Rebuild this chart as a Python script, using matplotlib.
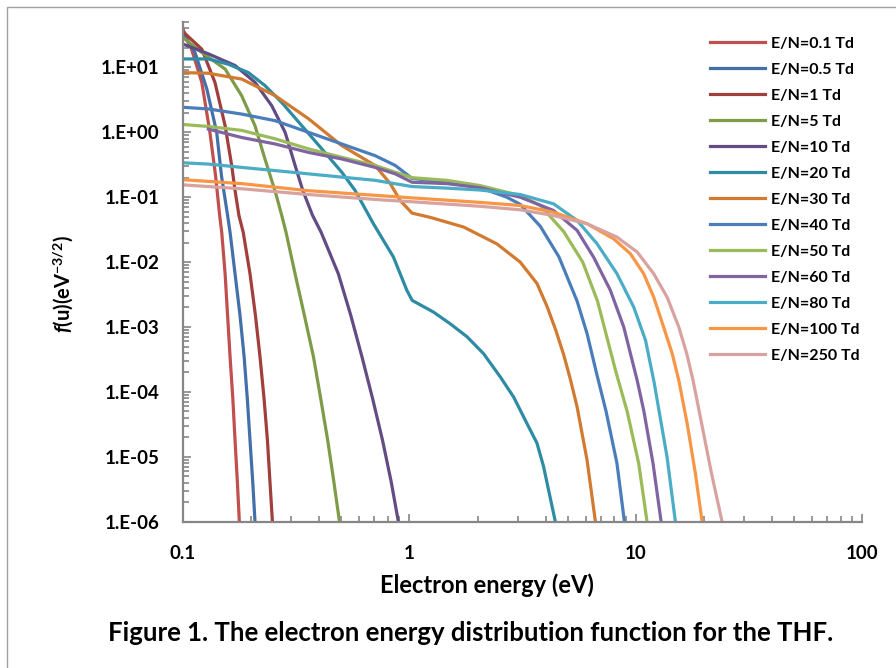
import numpy as np
import matplotlib
matplotlib.use("Agg")
import matplotlib.pyplot as plt
from matplotlib.ticker import FixedLocator, NullFormatter
from matplotlib.patches import Rectangle

plt.rcParams['font.family'] = ['Lato', 'DejaVu Sans']
plt.rcParams['mathtext.fontset'] = 'custom'
plt.rcParams['mathtext.rm'] = 'Lato:bold'
plt.rcParams['mathtext.it'] = 'Lato:bold:italic'
plt.rcParams['mathtext.bf'] = 'Lato:bold'

# EEDF for THF: energy (eV) and f(u) (eV^-3/2)
labels = ['E/N=0.1 Td', 'E/N=0.5 Td', 'E/N=1 Td', 'E/N=5 Td', 'E/N=10 Td',
          'E/N=20 Td', 'E/N=30 Td', 'E/N=40 Td', 'E/N=50 Td', 'E/N=60 Td',
          'E/N=80 Td', 'E/N=100 Td', 'E/N=250 Td']
colors = ['#C0504D', '#4470A9', '#A03F3B', '#7E9B47', '#634B84', '#2D8BA3',
          '#D27A30', '#4A7EBB', '#9BBB59', '#8064A2', '#4BACC6', '#F79646',
          '#D8A29F']

e_01 = [0.100, 0.1091, 0.1211, 0.1315, 0.1393, 0.1452, 0.1483, 0.1535, 0.1574, 0.1614,
        0.1660, 0.1698, 0.1738, 0.1774]
f_01 = [38.9, 19.1, 5.89, 1.0, 0.214, 0.0525, 0.0288, 6.6e-3, 1.51e-3, 3.5e-4,
        7.94e-5, 1.8e-5, 4.17e-6, 1.0e-6]

e_05 = [0.100, 0.1130, 0.1274, 0.1409, 0.1479, 0.1574, 0.1614, 0.1698, 0.1786, 0.1862,
        0.1923, 0.1977, 0.2032, 0.2080]
f_05 = [32.4, 17.0, 4.68, 1.0, 0.214, 0.0525, 0.0288, 6.6e-3, 1.51e-3, 3.5e-4,
        7.94e-5, 1.8e-5, 4.17e-6, 1.0e-6]

e_1 = [0.100, 0.1211, 0.1384, 0.1535, 0.1641, 0.1698, 0.1766, 0.1845, 0.1977, 0.2089,
       0.2188, 0.2280, 0.2360, 0.2421, 0.2483]
f_1 = [35.5, 19.1, 5.89, 1.26, 0.309, 0.127, 0.0525, 0.0288, 6.6e-3, 1.51e-3,
       3.5e-4, 7.94e-5, 1.8e-5, 4.17e-6, 1.0e-6]

e_5 = [0.100, 0.1211, 0.1535, 0.1816, 0.2080, 0.2301, 0.2564, 0.2729, 0.2851, 0.3126,
       0.3436, 0.3767, 0.4055, 0.4355, 0.4634, 0.4909]
f_5 = [28.8, 17.0, 9.44, 3.67, 1.26, 0.389, 0.117, 0.0525, 0.0288, 6.6e-3,
       1.51e-3, 3.5e-4, 7.94e-5, 1.8e-5, 4.17e-6, 1.0e-6]

e_10 = [0.100, 0.1294, 0.1698, 0.2080, 0.2466, 0.2825, 0.3126, 0.3381, 0.3733, 0.4074,
        0.4853, 0.5508, 0.6166, 0.6871, 0.7603, 0.8299, 0.8933]
f_10 = [22.9, 16.2, 10.7, 5.89, 2.57, 1.0, 0.309, 0.127, 0.0525, 0.0288,
        6.6e-3, 1.51e-3, 3.5e-4, 7.94e-5, 1.8e-5, 4.17e-6, 1.0e-6]

e_20 = [0.100, 0.1294, 0.1585, 0.1945, 0.2301, 0.2729, 0.3350, 0.4102, 0.5023, 0.5754,
        0.6934, 0.8492, 0.9739, 1.028, 1.276, 1.514, 1.795, 2.123, 2.518, 2.884,
        3.304, 3.656, 3.908, 4.111, 4.406]
f_20 = [13.5, 13.5, 11.2, 8.32, 5.25, 2.88, 1.26, 0.556, 0.243, 0.127,
        0.0389, 0.0120, 3.67e-3, 2.57e-3, 1.70e-3, 1.12e-3, 7.08e-4, 3.89e-4, 1.70e-4, 8.32e-5,
        3.24e-5, 1.62e-5, 7.08e-6, 3.09e-6, 1.0e-6]

e_30 = [0.100, 0.1294, 0.1816, 0.2553, 0.3581, 0.5023, 0.7047, 0.8222, 0.9099, 1.026,
        1.233, 1.734, 2.432, 3.083, 3.656, 4.046, 4.416, 4.797, 5.129, 5.495,
        6.081, 6.622]
f_30 = [8.32, 8.13, 6.61, 3.67, 1.62, 0.624, 0.309, 0.162, 0.0891, 0.0569,
        0.0490, 0.0347, 0.0191, 0.0100, 4.68e-3, 2.09e-3, 9.12e-4, 3.72e-4, 1.58e-4, 5.89e-5,
        8.91e-6, 1.0e-6]

e_40 = [0.100, 0.1294, 0.1816, 0.2553, 0.3581, 0.5023, 0.7047, 0.8650, 1.026, 1.462,
        2.051, 2.692, 3.083, 3.784, 4.571, 5.495, 6.081, 6.683, 7.379, 8.241, 8.892]
f_40 = [2.43, 2.29, 1.91, 1.51, 1.0, 0.661, 0.437, 0.309, 0.195, 0.170,
        0.140, 0.100, 0.0776, 0.0355, 0.0120, 2.51e-3, 7.94e-4, 2.0e-4, 5.01e-5, 7.94e-6, 1.0e-6]

e_50 = [0.100, 0.1294, 0.1816, 0.2553, 0.3581, 0.5023, 0.7047, 0.8650, 1.026, 1.462,
        2.051, 3.083, 3.784, 4.797, 5.821, 6.761, 8.166, 9.141, 10.28, 11.19]
f_50 = [1.32, 1.23, 1.07, 0.794, 0.556, 0.412, 0.309, 0.243, 0.200, 0.182,
        0.151, 0.106, 0.0745, 0.0295, 0.0100, 2.51e-3, 2.0e-4, 5.01e-5, 7.94e-6, 1.0e-6]

e_60 = [0.1294, 0.1816, 0.2553, 0.3581, 0.5023, 0.7047, 0.8650, 1.026, 1.462, 2.051,
        3.083, 4.325, 5.495, 6.501, 7.709, 8.831, 10.12, 10.84, 11.89, 12.91]
f_60 = [1.12, 0.832, 0.661, 0.490, 0.389, 0.288, 0.229, 0.170, 0.162, 0.140,
        0.100, 0.0624, 0.0308, 0.0119, 3.67e-3, 1.0e-3, 1.51e-4, 5.01e-5, 7.94e-6, 1.0e-6]

e_80 = [0.100, 0.1294, 0.1816, 0.2553, 0.3581, 0.5023, 0.7047, 1.026, 1.462, 2.051,
        3.083, 4.325, 5.495, 6.730, 8.241, 9.772, 11.02, 12.02, 13.71, 14.93]
f_80 = [0.339, 0.324, 0.288, 0.257, 0.229, 0.204, 0.182, 0.146, 0.138, 0.129,
        0.110, 0.0791, 0.0439, 0.0192, 6.64e-3, 2.03e-3, 6.24e-4, 1.41e-4, 1.0e-5, 1.0e-6]

e_100 = [0.100, 0.1816, 0.3581, 0.7047, 1.026, 2.051, 3.083, 4.325, 6.081, 7.962,
         9.441, 10.81, 11.97, 13.24, 14.45, 15.45, 16.83, 18.28, 19.59]
f_100 = [0.186, 0.162, 0.126, 0.107, 0.0977, 0.0832, 0.0745, 0.0587, 0.0390, 0.0229,
         0.0135, 6.64e-3, 2.90e-3, 1.0e-3, 3.90e-4, 1.51e-4, 3.24e-5, 5.62e-6, 1.0e-6]

e_250 = [0.100, 0.1816, 0.3581, 0.7047, 1.026, 2.051, 3.083, 4.325, 6.081, 8.241,
         10.12, 11.97, 13.71, 15.45, 16.75, 17.86, 19.23, 21.53, 23.99]
f_250 = [0.155, 0.135, 0.110, 0.0923, 0.0851, 0.0724, 0.0640, 0.0522, 0.0390, 0.0243,
         0.0143, 6.64e-3, 2.90e-3, 1.0e-3, 3.90e-4, 1.51e-4, 4.12e-5, 5.62e-6, 1.0e-6]

energies = [e_01, e_05, e_1, e_5, e_10, e_20, e_30, e_40, e_50, e_60, e_80, e_100, e_250]
eedfs = [f_01, f_05, f_1, f_5, f_10, f_20, f_30, f_40, f_50, f_60, f_80, f_100, f_250]

ytick_vals = [1e-6, 1e-5, 1e-4, 1e-3, 1e-2, 1e-1, 1e0, 1e1]
ytick_labels = ['1.E-06', '1.E-05', '1.E-04', '1.E-03', '1.E-02', '1.E-01', '1.E+00', '1.E+01']
xtick_vals = [0.1, 1, 10, 100]
xtick_labels = ['0.1', '1', '10', '100']

fig = plt.figure(figsize=(8.96, 6.68), dpi=100)
ax = fig.add_axes([0.2042, 0.219, 0.7584, 0.748])

for e, f, lab, c in zip(energies, eedfs, labels, colors):
    ax.plot(e, f, color=c, lw=2.3, label=lab, solid_joinstyle='round')

ax.set_xscale('log')
ax.set_yscale('log')
ax.set_xlim(0.1, 100)
ax.set_ylim(1e-6, 50)

axis_gray = '#868686'
for s in ['top', 'right']:
    ax.spines[s].set_visible(False)
for s in ['left', 'bottom']:
    ax.spines[s].set_color(axis_gray)
    ax.spines[s].set_linewidth(1.6)

ax.yaxis.set_major_locator(FixedLocator(ytick_vals))
ax.set_yticklabels(ytick_labels)
ax.xaxis.set_major_locator(FixedLocator(xtick_vals))
ax.set_xticklabels(xtick_labels)
ax.xaxis.set_minor_formatter(NullFormatter())
ax.yaxis.set_minor_formatter(NullFormatter())

ax.tick_params(which='both', direction='in', color=axis_gray, width=1.2)
ax.tick_params(which='major', length=6, labelsize=13.5)
ax.tick_params(which='minor', length=4)
ax.tick_params(axis='x', which='major', pad=17)
ax.tick_params(axis='y', which='major', pad=17)
for t in ax.get_xticklabels() + ax.get_yticklabels():
    t.set_fontweight('bold')

fig.text(487 / 896, 1 - 585 / 668, 'Electron energy (eV)', fontsize=17, fontweight='bold',
         ha='center', va='center')
fig.text(63 / 896, 1 - 284 / 668, r'$\mathit{f}$(u)(eV$^{-3/2}$)', rotation=90, fontsize=14.5,
         fontweight='bold', ha='center', va='center')

ax.legend(loc='upper left', bbox_to_anchor=(0.7834, 0.957), bbox_transform=fig.transFigure,
          frameon=False, prop={'weight': 'bold', 'size': 11.5}, handlelength=3.45,
          labelspacing=0.74, handletextpad=0.35, borderpad=0)

fig.text(471 / 896, 1 - 633 / 668, 'Figure 1. The electron energy distribution function for the THF.',
         fontsize=18.5, fontweight='bold', ha='center', va='center')

# chart border (only top and left edges are inside the picture)
fig.patches.append(Rectangle((7 / 896, -0.1), 1.2, 1 - 7 / 668 + 0.1, transform=fig.transFigure,
                             fill=False, edgecolor='#A0A0A0', lw=1.0))

fig.savefig('out.png', dpi=100)
